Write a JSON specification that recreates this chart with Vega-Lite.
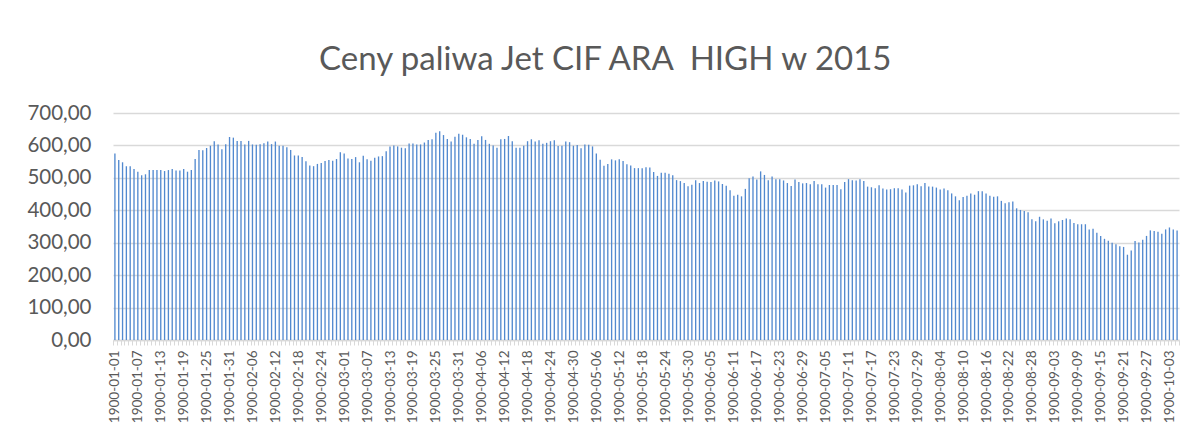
{
  "$schema": "https://vega.github.io/schema/vega-lite/v6.json",
  "width": 1066,
  "height": 227,
  "autosize": {"type": "none"},
  "padding": {"left": 113, "top": 113, "right": 15, "bottom": 94},
  "background": "white",
  "title": {
    "text": "Ceny paliwa Jet CIF ARA\u00a0 HIGH w 2015",
    "font": "Lato",
    "fontSize": 33,
    "fontWeight": "normal",
    "color": "#595959",
    "anchor": "middle",
    "frame": "bounds",
    "offset": 26
  },
  "config": {
    "view": {"stroke": null},
    "font": "Lato"
  },
  "data": {
    "values": [
      {"d":"1900-01-01","v":575},{"d":"1900-01-02","v":555},{"d":"1900-01-03","v":548},{"d":"1900-01-04","v":536},{"d":"1900-01-05","v":536},
      {"d":"1900-01-06","v":527},{"d":"1900-01-07","v":519},{"d":"1900-01-08","v":508},{"d":"1900-01-09","v":511},{"d":"1900-01-10","v":524},
      {"d":"1900-01-11","v":524},{"d":"1900-01-12","v":524},{"d":"1900-01-13","v":524},{"d":"1900-01-14","v":521},{"d":"1900-01-15","v":524},
      {"d":"1900-01-16","v":527},{"d":"1900-01-17","v":523},{"d":"1900-01-18","v":523},{"d":"1900-01-19","v":527},{"d":"1900-01-20","v":519},
      {"d":"1900-01-21","v":524},{"d":"1900-01-22","v":558},{"d":"1900-01-23","v":586},{"d":"1900-01-24","v":585},{"d":"1900-01-25","v":592},
      {"d":"1900-01-26","v":599},{"d":"1900-01-27","v":613},{"d":"1900-01-28","v":603},{"d":"1900-01-29","v":588},{"d":"1900-01-30","v":604},
      {"d":"1900-01-31","v":626},{"d":"1900-02-01","v":624},{"d":"1900-02-02","v":614},{"d":"1900-02-03","v":614},{"d":"1900-02-04","v":603},
      {"d":"1900-02-05","v":614},{"d":"1900-02-06","v":603},{"d":"1900-02-07","v":602},{"d":"1900-02-08","v":604},{"d":"1900-02-09","v":607},
      {"d":"1900-02-10","v":612},{"d":"1900-02-11","v":604},{"d":"1900-02-12","v":612},{"d":"1900-02-13","v":599},{"d":"1900-02-14","v":599},
      {"d":"1900-02-15","v":594},{"d":"1900-02-16","v":586},{"d":"1900-02-17","v":569},{"d":"1900-02-18","v":569},{"d":"1900-02-19","v":564},
      {"d":"1900-02-20","v":551},{"d":"1900-02-21","v":538},{"d":"1900-02-22","v":536},{"d":"1900-02-23","v":543},{"d":"1900-02-24","v":546},
      {"d":"1900-02-25","v":552},{"d":"1900-02-26","v":555},{"d":"1900-02-27","v":553},{"d":"1900-02-28","v":558},{"d":"1900-02-29","v":579},
      {"d":"1900-03-01","v":575},{"d":"1900-03-02","v":560},{"d":"1900-03-03","v":558},{"d":"1900-03-04","v":564},{"d":"1900-03-05","v":548},
      {"d":"1900-03-06","v":568},{"d":"1900-03-07","v":557},{"d":"1900-03-08","v":553},{"d":"1900-03-09","v":562},{"d":"1900-03-10","v":566},
      {"d":"1900-03-11","v":567},{"d":"1900-03-12","v":582},{"d":"1900-03-13","v":597},{"d":"1900-03-14","v":600},{"d":"1900-03-15","v":597},
      {"d":"1900-03-16","v":593},{"d":"1900-03-17","v":591},{"d":"1900-03-18","v":606},{"d":"1900-03-19","v":606},{"d":"1900-03-20","v":603},
      {"d":"1900-03-21","v":603},{"d":"1900-03-22","v":609},{"d":"1900-03-23","v":617},{"d":"1900-03-24","v":619},{"d":"1900-03-25","v":639},
      {"d":"1900-03-26","v":644},{"d":"1900-03-27","v":632},{"d":"1900-03-28","v":620},{"d":"1900-03-29","v":612},{"d":"1900-03-30","v":627},
      {"d":"1900-03-31","v":636},{"d":"1900-04-01","v":633},{"d":"1900-04-02","v":625},{"d":"1900-04-03","v":620},{"d":"1900-04-04","v":605},
      {"d":"1900-04-05","v":617},{"d":"1900-04-06","v":628},{"d":"1900-04-07","v":617},{"d":"1900-04-08","v":605},{"d":"1900-04-09","v":600},
      {"d":"1900-04-10","v":593},{"d":"1900-04-11","v":619},{"d":"1900-04-12","v":620},{"d":"1900-04-13","v":629},{"d":"1900-04-14","v":613},
      {"d":"1900-04-15","v":593},{"d":"1900-04-16","v":593},{"d":"1900-04-17","v":599},{"d":"1900-04-18","v":613},{"d":"1900-04-19","v":619},
      {"d":"1900-04-20","v":612},{"d":"1900-04-21","v":616},{"d":"1900-04-22","v":605},{"d":"1900-04-23","v":608},{"d":"1900-04-24","v":613},
      {"d":"1900-04-25","v":616},{"d":"1900-04-26","v":598},{"d":"1900-04-27","v":599},{"d":"1900-04-28","v":612},{"d":"1900-04-29","v":610},
      {"d":"1900-04-30","v":599},{"d":"1900-05-01","v":601},{"d":"1900-05-02","v":591},{"d":"1900-05-03","v":603},{"d":"1900-05-04","v":602},
      {"d":"1900-05-05","v":597},{"d":"1900-05-06","v":575},{"d":"1900-05-07","v":556},{"d":"1900-05-08","v":537},{"d":"1900-05-09","v":543},
      {"d":"1900-05-10","v":557},{"d":"1900-05-11","v":554},{"d":"1900-05-12","v":557},{"d":"1900-05-13","v":552},{"d":"1900-05-14","v":542},
      {"d":"1900-05-15","v":538},{"d":"1900-05-16","v":530},{"d":"1900-05-17","v":530},{"d":"1900-05-18","v":530},{"d":"1900-05-19","v":533},
      {"d":"1900-05-20","v":532},{"d":"1900-05-21","v":518},{"d":"1900-05-22","v":506},{"d":"1900-05-23","v":516},{"d":"1900-05-24","v":516},
      {"d":"1900-05-25","v":513},{"d":"1900-05-26","v":508},{"d":"1900-05-27","v":493},{"d":"1900-05-28","v":490},{"d":"1900-05-29","v":484},
      {"d":"1900-05-30","v":474},{"d":"1900-05-31","v":479},{"d":"1900-06-01","v":493},{"d":"1900-06-02","v":484},{"d":"1900-06-03","v":490},
      {"d":"1900-06-04","v":488},{"d":"1900-06-05","v":487},{"d":"1900-06-06","v":492},{"d":"1900-06-07","v":489},{"d":"1900-06-08","v":481},
      {"d":"1900-06-09","v":476},{"d":"1900-06-10","v":462},{"d":"1900-06-11","v":445},{"d":"1900-06-12","v":448},{"d":"1900-06-13","v":443},
      {"d":"1900-06-14","v":466},{"d":"1900-06-15","v":499},{"d":"1900-06-16","v":504},{"d":"1900-06-17","v":495},{"d":"1900-06-18","v":520},
      {"d":"1900-06-19","v":509},{"d":"1900-06-20","v":493},{"d":"1900-06-21","v":504},{"d":"1900-06-22","v":496},{"d":"1900-06-23","v":496},
      {"d":"1900-06-24","v":492},{"d":"1900-06-25","v":484},{"d":"1900-06-26","v":475},{"d":"1900-06-27","v":495},{"d":"1900-06-28","v":487},
      {"d":"1900-06-29","v":483},{"d":"1900-06-30","v":484},{"d":"1900-07-01","v":480},{"d":"1900-07-02","v":490},{"d":"1900-07-03","v":480},
      {"d":"1900-07-04","v":480},{"d":"1900-07-05","v":470},{"d":"1900-07-06","v":478},{"d":"1900-07-07","v":478},{"d":"1900-07-08","v":478},
      {"d":"1900-07-09","v":465},{"d":"1900-07-10","v":487},{"d":"1900-07-11","v":496},{"d":"1900-07-12","v":493},{"d":"1900-07-13","v":492},
      {"d":"1900-07-14","v":496},{"d":"1900-07-15","v":490},{"d":"1900-07-16","v":473},{"d":"1900-07-17","v":471},{"d":"1900-07-18","v":468},
      {"d":"1900-07-19","v":477},{"d":"1900-07-20","v":467},{"d":"1900-07-21","v":464},{"d":"1900-07-22","v":465},{"d":"1900-07-23","v":468},
      {"d":"1900-07-24","v":468},{"d":"1900-07-25","v":464},{"d":"1900-07-26","v":455},{"d":"1900-07-27","v":476},{"d":"1900-07-28","v":477},
      {"d":"1900-07-29","v":480},{"d":"1900-07-30","v":474},{"d":"1900-07-31","v":484},{"d":"1900-08-01","v":473},{"d":"1900-08-02","v":473},
      {"d":"1900-08-03","v":470},{"d":"1900-08-04","v":464},{"d":"1900-08-05","v":467},{"d":"1900-08-06","v":462},{"d":"1900-08-07","v":452},
      {"d":"1900-08-08","v":443},{"d":"1900-08-09","v":431},{"d":"1900-08-10","v":441},{"d":"1900-08-11","v":445},{"d":"1900-08-12","v":452},
      {"d":"1900-08-13","v":448},{"d":"1900-08-14","v":459},{"d":"1900-08-15","v":459},{"d":"1900-08-16","v":452},{"d":"1900-08-17","v":445},
      {"d":"1900-08-18","v":442},{"d":"1900-08-19","v":443},{"d":"1900-08-20","v":429},{"d":"1900-08-21","v":422},{"d":"1900-08-22","v":425},
      {"d":"1900-08-23","v":427},{"d":"1900-08-24","v":406},{"d":"1900-08-25","v":401},{"d":"1900-08-26","v":398},{"d":"1900-08-27","v":394},
      {"d":"1900-08-28","v":372},{"d":"1900-08-29","v":366},{"d":"1900-08-30","v":380},{"d":"1900-08-31","v":372},{"d":"1900-09-01","v":368},
      {"d":"1900-09-02","v":375},{"d":"1900-09-03","v":360},{"d":"1900-09-04","v":366},{"d":"1900-09-05","v":370},{"d":"1900-09-06","v":375},
      {"d":"1900-09-07","v":372},{"d":"1900-09-08","v":361},{"d":"1900-09-09","v":357},{"d":"1900-09-10","v":357},{"d":"1900-09-11","v":357},
      {"d":"1900-09-12","v":341},{"d":"1900-09-13","v":343},{"d":"1900-09-14","v":331},{"d":"1900-09-15","v":321},{"d":"1900-09-16","v":312},
      {"d":"1900-09-17","v":306},{"d":"1900-09-18","v":300},{"d":"1900-09-19","v":295},{"d":"1900-09-20","v":289},{"d":"1900-09-21","v":287},
      {"d":"1900-09-22","v":263},{"d":"1900-09-23","v":276},{"d":"1900-09-24","v":305},{"d":"1900-09-25","v":301},{"d":"1900-09-26","v":309},
      {"d":"1900-09-27","v":321},{"d":"1900-09-28","v":338},{"d":"1900-09-29","v":336},{"d":"1900-09-30","v":334},{"d":"1900-10-01","v":328},
      {"d":"1900-10-02","v":341},{"d":"1900-10-03","v":347},{"d":"1900-10-04","v":341},{"d":"1900-10-05","v":338}
    ]
  },
  "mark": {"type": "bar", "color": "#5289cf", "width": {"band": 0.35}},
  "encoding": {
    "x": {
      "field": "d",
      "type": "ordinal",
      "sort": null,
      "scale": {"paddingInner": 0, "paddingOuter": 0},
      "axis": {
        "title": null,
        "labelAngle": -90,
        "labelFont": "Lato",
        "labelFontSize": 13.5,
        "labelColor": "#595959",
        "labelPadding": 5,
        "labelOverlap": false,
        "labelExpr": "indexof(['1900-01-01','1900-01-07','1900-01-13','1900-01-19','1900-01-25','1900-01-31','1900-02-06','1900-02-12','1900-02-18','1900-02-24','1900-03-01','1900-03-07','1900-03-13','1900-03-19','1900-03-25','1900-03-31','1900-04-06','1900-04-12','1900-04-18','1900-04-24','1900-04-30','1900-05-06','1900-05-12','1900-05-18','1900-05-24','1900-05-30','1900-06-05','1900-06-11','1900-06-17','1900-06-23','1900-06-29','1900-07-05','1900-07-11','1900-07-17','1900-07-23','1900-07-29','1900-08-04','1900-08-10','1900-08-16','1900-08-22','1900-08-28','1900-09-03','1900-09-09','1900-09-15','1900-09-21','1900-09-27','1900-10-03'], datum.value) >= 0 ? datum.value : ''",
        "domainColor": "#d9d9d9",
        "domainWidth": 1.3,
        "tickColor": "#d9d9d9",
        "tickSize": 5,
        "tickBand": "extent",
        "grid": false
      }
    },
    "y": {
      "field": "v",
      "type": "quantitative",
      "scale": {"domain": [0, 700], "nice": false},
      "axis": {
        "title": null,
        "values": [0, 100, 200, 300, 400, 500, 600, 700],
        "labelExpr": "replace(format(datum.value, '.2f'), '.', ',')",
        "labelFont": "Lato",
        "labelFontSize": 20.5,
        "labelColor": "#595959",
        "labelPadding": 22,
        "domain": false,
        "ticks": false,
        "grid": true,
        "gridColor": "#d9d9d9",
        "gridWidth": 1.3
      }
    }
  }
}
